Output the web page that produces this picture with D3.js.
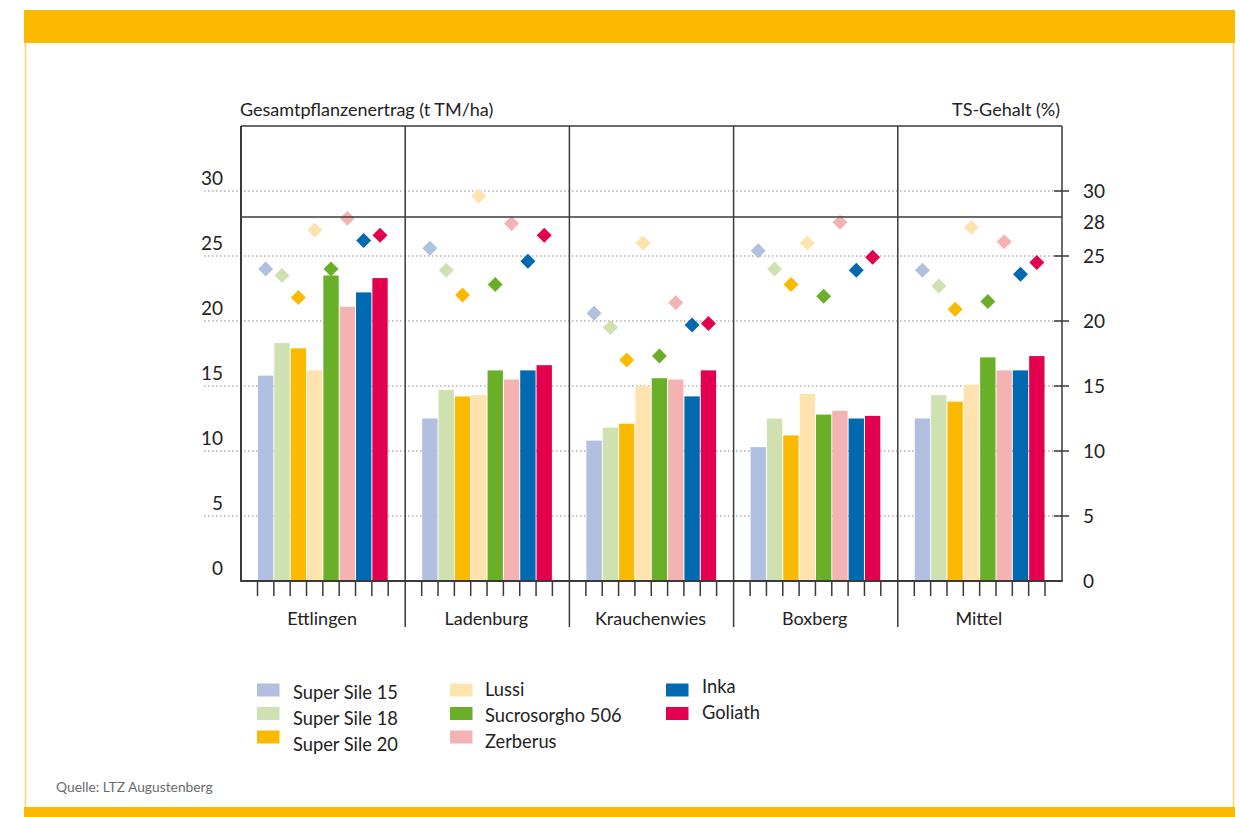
<!DOCTYPE html>
<html>
<head>
<meta charset="utf-8">
<script src="https://cdn.jsdelivr.net/npm/d3@7"></script>
<style>
  body { margin: 0; background: #fff; }
  svg { display: block; font-family: Lato, "Open Sans", sans-serif; }
</style>
</head>
<body>
<script>
// data
const standorte = ['Ettlingen', 'Ladenburg', 'Krauchenwies', 'Boxberg', 'Mittel']
const sorten = ['Super Sile 15', 'Super Sile 18', 'Super Sile 20', 'Lussi', 'Sucrosorgho 506', 'Zerberus', 'Inka', 'Goliath']
const farben = ['#b1c0e0', '#cfe1b1', '#fbba00', '#fee3af', '#6aaf28', '#f4b2b3', '#0069b0', '#e2004f']

// Gesamtpflanzenertrag (t TM/ha), one row per Standort, in order of sorten
const ertrag = [
    [15.8, 18.3, 17.9, 16.2, 23.5, 21.1, 22.2, 23.3],
    [12.5, 14.7, 14.2, 14.3, 16.2, 15.5, 16.2, 16.6],
    [10.8, 11.8, 12.1, 15.0, 15.6, 15.5, 14.2, 16.2],
    [10.3, 12.5, 11.2, 14.4, 12.8, 13.1, 12.5, 12.7],
    [12.5, 14.3, 13.8, 15.1, 17.2, 16.2, 16.2, 17.3]
]
// TS-Gehalt (%)
const tsGehalt = [
    [24.0, 23.5, 21.8, 27.0, 24.0, 27.9, 26.2, 26.6],
    [25.6, 23.9, 22.0, 29.6, 22.8, 27.5, 24.6, 26.6],
    [20.6, 19.5, 17.0, 26.0, 17.3, 21.4, 19.7, 19.8],
    [25.4, 24.0, 22.8, 26.0, 21.9, 27.6, 23.9, 24.9],
    [23.9, 22.7, 20.9, 27.2, 21.5, 26.1, 23.6, 24.5]
]
const leftTicks = [0, 5, 10, 15, 20, 25, 30]
const rightTicks = [0, 5, 10, 15, 20, 25, 28, 30]
const gridTicks = [5, 10, 15, 20, 25, 30]
const schwelle = 28

const width = 1240
const height = 817
const plotLeft = 241, plotRight = 1062, plotTop = 126, plotBottom = 581
const lineColor = '#3a3a3a'

let svg = d3.select('body').append('svg')
    .attr('width', width)
    .attr('height', height)

// FRAME
svg.append('rect').attr('x', 24).attr('y', 10).attr('width', 1211).attr('height', 33).attr('fill', '#fbba00')
svg.append('rect').attr('x', 24).attr('y', 807).attr('width', 1211).attr('height', 10).attr('fill', '#fbba00')
svg.append('line').attr('x1', 25.5).attr('x2', 25.5).attr('y1', 43).attr('y2', 807)
    .attr('stroke', '#fdd46a').attr('stroke-width', 1.5)
svg.append('line').attr('x1', 1233.5).attr('x2', 1233.5).attr('y1', 43).attr('y2', 807)
    .attr('stroke', '#fdd46a').attr('stroke-width', 1.5)
// FRAME

let x0 = d3.scaleBand().domain(standorte).range([plotLeft, plotRight])
let x1 = d3.scaleBand().domain(sorten).range([16.5, x0.bandwidth() - 17])
let y = d3.scaleLinear().domain([0, 35]).range([plotBottom, plotTop])

// GRID
svg.append('g').selectAll('line').data(gridTicks).join('line')
    .attr('x1', 204).attr('x2', plotRight)
    .attr('y1', d => y(d)).attr('y2', d => y(d))
    .attr('stroke', '#8a8a8a').attr('stroke-width', 1)
    .attr('stroke-dasharray', '1.5,2.5')
// GRID

// BARS
let groups = svg.append('g').selectAll('g').data(standorte).join('g')
    .attr('transform', d => `translate(${x0(d)},0)`)

groups.selectAll('rect').data((d, i) => ertrag[i].map((v, j) => ({ sorte: sorten[j], v: v, c: farben[j] })))
    .join('rect')
    .attr('x', d => x1(d.sorte) + 0.5)
    .attr('width', x1.bandwidth() - 1)
    .attr('y', d => y(d.v))
    .attr('height', d => y(0) - y(d.v))
    .attr('fill', d => d.c)

// bar ticks below the baseline
groups.selectAll('line.tick').data(sorten.map(s => x1(s)).concat([x1(sorten[sorten.length - 1]) + x1.bandwidth()]))
    .join('line').attr('class', 'tick')
    .attr('x1', d => d).attr('x2', d => d)
    .attr('y1', plotBottom).attr('y2', plotBottom + 15)
    .attr('stroke', lineColor).attr('stroke-width', 1.5)
// BARS

// DIAMONDS
let diamond = d3.symbol().type(d3.symbolSquare).size(112)
groups.selectAll('path').data((d, i) => tsGehalt[i].map((v, j) => ({ sorte: sorten[j], v: v, c: farben[j] })))
    .join('path')
    .attr('d', diamond)
    .attr('transform', d => `translate(${x1(d.sorte) + x1.bandwidth() / 2},${y(d.v)}) rotate(45)`)
    .attr('fill', d => d.c)
// DIAMONDS

// AXES / LINES
let lines = svg.append('g').attr('stroke', lineColor).attr('stroke-width', 1.5).attr('fill', 'none')
lines.append('line').attr('x1', plotLeft).attr('x2', plotRight).attr('y1', plotTop).attr('y2', plotTop)
lines.append('line').attr('x1', plotLeft).attr('x2', plotRight).attr('y1', y(schwelle)).attr('y2', y(schwelle)).attr('stroke-width', 1.3)
lines.append('line').attr('x1', plotLeft - 0.75).attr('x2', plotRight + 0.75).attr('y1', plotBottom).attr('y2', plotBottom).attr('stroke-width', 2)
lines.append('line').attr('x1', plotLeft).attr('x2', plotLeft).attr('y1', plotTop).attr('y2', plotBottom).attr('stroke-width', 2)
lines.append('line').attr('x1', plotRight).attr('x2', plotRight).attr('y1', plotTop).attr('y2', plotBottom)
lines.selectAll('line.sep').data(standorte.slice(1)).join('line').attr('class', 'sep')
    .attr('x1', d => x0(d)).attr('x2', d => x0(d))
    .attr('y1', plotTop).attr('y2', 627)

// right ticks
lines.selectAll('line.rt').data(gridTicks).join('line').attr('class', 'rt')
    .attr('x1', plotRight - 8).attr('x2', plotRight + 7)
    .attr('y1', d => y(d)).attr('y2', d => y(d))
// AXES / LINES

// LABELS
svg.append('g').selectAll('text').data(leftTicks).join('text')
    .attr('x', 223).attr('y', d => y(d) - 6)
    .attr('text-anchor', 'end')
    .attr('font-size', 19).attr('fill', '#222')
    .text(d => d)

svg.append('g').selectAll('text').data(rightTicks).join('text')
    .attr('x', 1083).attr('y', d => y(d) + (d === schwelle ? 5 : 0))
    .attr('dy', '0.35em')
    .attr('font-size', 19).attr('fill', '#222')
    .text(d => d)

svg.append('text').attr('x', 240).attr('y', 116)
    .attr('font-size', 18).attr('fill', '#222')
    .text('Gesamtpflanzenertrag (t TM/ha)')

svg.append('text').attr('x', 1060).attr('y', 116)
    .attr('text-anchor', 'end')
    .attr('font-size', 18).attr('fill', '#222')
    .text('TS-Gehalt (%)')

svg.append('g').selectAll('text').data(standorte).join('text')
    .attr('x', d => x0(d) + x0.bandwidth() / 2 - 1)
    .attr('y', 625)
    .attr('text-anchor', 'middle')
    .attr('font-size', 18).attr('fill', '#222')
    .text(d => d)
// LABELS

// LEGEND
const legendCols = [
    { x: 257, tx: 293, items: [0, 1, 2], ty: 699 },
    { x: 450, tx: 485, items: [3, 4, 5], ty: 696 },
    { x: 666, tx: 702, items: [6, 7], ty: 693 }
]
let legend = svg.append('g')
legendCols.forEach(col => {
    col.items.forEach((k, r) => {
        legend.append('rect')
            .attr('x', col.x).attr('y', 683.5 + r * 23.5)
            .attr('width', 22.5).attr('height', 13)
            .attr('fill', farben[k])
        legend.append('text')
            .attr('x', col.tx).attr('y', col.ty + r * 26)
            .attr('font-size', 18.3).attr('fill', '#222')
            .text(sorten[k])
    })
})
// LEGEND

svg.append('text').attr('x', 56).attr('y', 792)
    .attr('font-size', 13.8).attr('fill', '#6b6b6b')
    .text('Quelle: LTZ Augustenberg')
</script>
</body>
</html>
